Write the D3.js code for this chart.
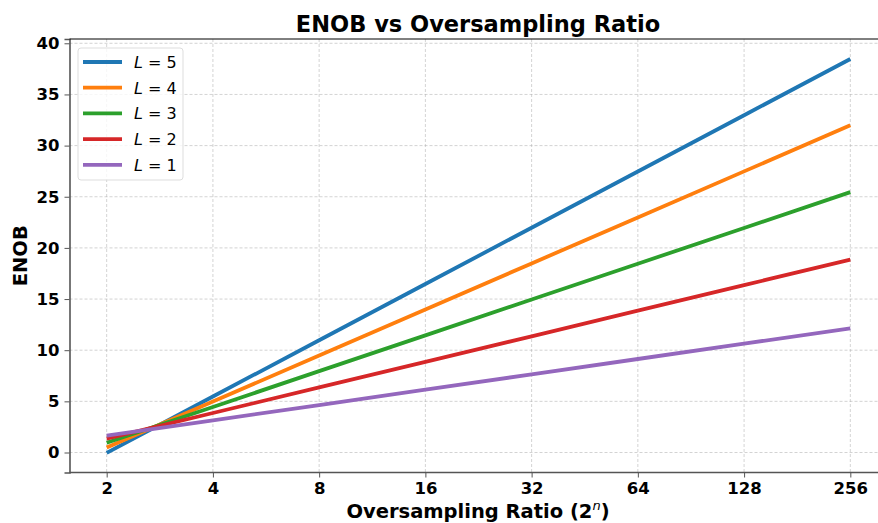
<!DOCTYPE html>
<html>
<head>
<meta charset="utf-8">
<script src="https://cdn.jsdelivr.net/npm/d3@7"></script>
<style>
  body { margin: 0; background: #fff; }
  svg { font-family: "DejaVu Sans", sans-serif; }
</style>
</head>
<body>
<script>
// basic settings
const width = 878;
const height = 523;
const marginLeft = 69.5;
const marginTop = 39;
const marginBottom = 50.5;
const plotRight = 887.5; // axes run past the window edge

// data
const osr = [2, 4, 8, 16, 32, 64, 128, 256];
const orders = [5, 4, 3, 2, 1];
const enobL5 = [-0.03, 5.47, 10.97, 16.47, 21.97, 27.47, 32.97, 38.47];
const enobL4 = [0.48, 4.98, 9.48, 13.98, 18.48, 22.98, 27.48, 31.98];
const enobL3 = [0.95, 4.45, 7.95, 11.45, 14.95, 18.45, 21.95, 25.45];
const enobL2 = [1.36, 3.86, 6.36, 8.86, 11.36, 13.86, 16.36, 18.86];
const enobL1 = [1.64, 3.14, 4.64, 6.14, 7.64, 9.14, 10.64, 12.14];
const yTicks = [0, 5, 10, 15, 20, 25, 30, 35, 40];

const seriesValues = [enobL5, enobL4, enobL3, enobL2, enobL1];
const colors = ['#1f77b4', '#ff7f0e', '#2ca02c', '#d62728', '#9467bd'];

const series = orders.map((L, i) => ({
  L: L,
  color: colors[i],
  points: osr.map((x, j) => ({x: x, y: seriesValues[i][j]}))
}));

const svg = d3.select('body')
  .append('svg')
  .attr('width', width)
  .attr('height', height);

const x = d3.scaleLog().base(2)
  .domain([Math.pow(2, 0.65), Math.pow(2, 8.35)])
  .range([marginLeft, plotRight]);

const y = d3.scaleLinear()
  .domain([-1.955, 40.42])
  .range([height - marginBottom, marginTop]);

svg.append('clipPath').attr('id', 'clip')
  .append('rect')
  .attr('x', marginLeft).attr('y', marginTop)
  .attr('width', plotRight - marginLeft)
  .attr('height', height - marginBottom - marginTop);

// grid
const grid = svg.append('g').attr('class', 'grid');
grid.selectAll('.vg').data(osr).enter().append('line')
  .attr('x1', d => x(d)).attr('x2', d => x(d))
  .attr('y1', marginTop).attr('y2', height - marginBottom)
  .attr('stroke', '#b0b0b0').attr('stroke-opacity', 0.7)
  .attr('stroke-width', 0.8).attr('stroke-dasharray', '3,2');
grid.selectAll('.hg').data(yTicks).enter().append('line')
  .attr('x1', marginLeft).attr('x2', plotRight)
  .attr('y1', d => y(d)).attr('y2', d => y(d))
  .attr('stroke', '#b0b0b0').attr('stroke-opacity', 0.7)
  .attr('stroke-width', 0.8).attr('stroke-dasharray', '3,2');

// lines
const line = d3.line()
  .x(d => x(d.x))
  .y(d => y(d.y));

svg.append('g').attr('clip-path', 'url(#clip)')
  .selectAll('path').data(series).enter().append('path')
  .attr('d', d => line(d.points))
  .attr('fill', 'none')
  .attr('stroke', d => d.color)
  .attr('stroke-width', 3.8)
  .attr('stroke-linecap', 'butt');

// axes
const xAxis = d3.axisBottom(x)
  .tickValues(osr)
  .tickFormat(d3.format('d'))
  .tickSizeOuter(0)
  .tickSize(5)
  .tickPadding(5);

const yAxis = d3.axisLeft(y)
  .tickValues(yTicks)
  .tickSizeOuter(0)
  .tickSize(5)
  .tickPadding(5);

const gx = svg.append('g')
  .attr('transform', 'translate(0,' + (height - marginBottom) + ')')
  .call(xAxis);
gx.select('.domain').attr('d', 'M' + marginLeft + ',0H' + plotRight);

const gy = svg.append('g')
  .attr('transform', 'translate(' + marginLeft + ',0)')
  .call(yAxis);

[gx, gy].forEach(g => {
  g.select('.domain').attr('stroke', '#555').attr('stroke-width', 1.6);
  g.selectAll('.tick line').attr('stroke', '#555').attr('stroke-width', 1);
  g.selectAll('.tick text')
    .attr('fill', '#000')
    .style('font-family', '"DejaVu Sans", sans-serif')
    .style('font-size', '16.5px')
    .style('font-weight', 'bold');
});

// top spine
svg.append('line')
  .attr('x1', marginLeft).attr('x2', plotRight)
  .attr('y1', marginTop).attr('y2', marginTop)
  .attr('stroke', '#000').attr('stroke-width', 1);

// title and labels
svg.append('text')
  .attr('x', 478).attr('y', 32)
  .attr('text-anchor', 'middle')
  .style('font-size', '22.5px').style('font-weight', 'bold')
  .text('ENOB vs Oversampling Ratio');

const xl = svg.append('text')
  .attr('x', 478).attr('y', 518)
  .attr('text-anchor', 'middle')
  .style('font-size', '19.5px').style('font-weight', 'bold');
xl.append('tspan').text('Oversampling Ratio (2');
xl.append('tspan').attr('dy', -8).style('font-size', '13px')
  .style('font-weight', 'normal').style('font-style', 'italic').text('n');
xl.append('tspan').attr('dy', 8).text(')');

svg.append('text')
  .attr('transform', 'translate(27,' + ((marginTop + height - marginBottom) / 2) + ') rotate(-90)')
  .attr('text-anchor', 'middle')
  .style('font-size', '19.5px').style('font-weight', 'bold')
  .text('ENOB');

// legend
const legend = svg.append('g').attr('transform', 'translate(78,48)');
legend.append('rect')
  .attr('width', 105).attr('height', 132)
  .attr('rx', 3)
  .attr('fill', '#fff').attr('fill-opacity', 0.8)
  .attr('stroke', '#ddd');

const items = legend.selectAll('.item').data(series).enter().append('g')
  .attr('transform', (d, i) => 'translate(0,' + (14 + i * 25.7) + ')');
items.append('line')
  .attr('x1', 5).attr('x2', 44)
  .attr('stroke', d => d.color).attr('stroke-width', 3.8);
const lt = items.append('text')
  .attr('x', 56).attr('y', 6)
  .style('font-size', '16px');
lt.append('tspan').style('font-style', 'italic').text('L');
lt.append('tspan').text(d => ' = ' + d.L);
</script>
</body>
</html>
